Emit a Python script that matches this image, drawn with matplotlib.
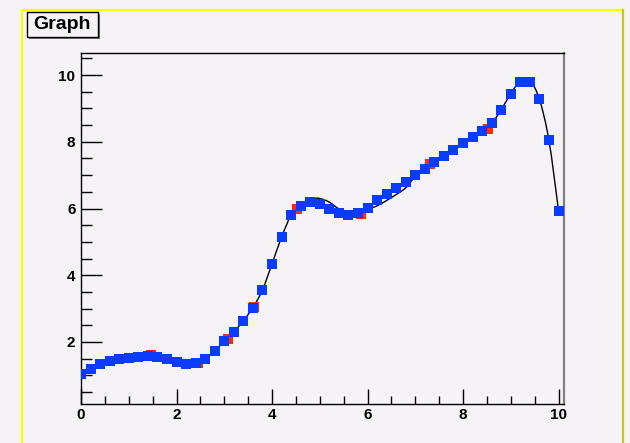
import matplotlib
matplotlib.use("Agg")
import matplotlib.pyplot as plt
from matplotlib.path import Path
from matplotlib.patches import PathPatch, Rectangle
from matplotlib.lines import Line2D
from matplotlib.ticker import MultipleLocator
import numpy as np

plt.rcParams['font.family'] = ['Liberation Sans', 'DejaVu Sans']

# smoothed points (blue), sampled every 0.2
x_smooth = [round(0.2 * i, 1) for i in range(51)]
y_smooth = [1.04, 1.19, 1.34, 1.44, 1.49, 1.52, 1.55, 1.58, 1.55, 1.49,
            1.40, 1.34, 1.37, 1.49, 1.72, 2.02, 2.31, 2.64, 3.03, 3.56,
            4.34, 5.14, 5.80, 6.08, 6.19, 6.13, 6.00, 5.88, 5.80, 5.86,
            6.03, 6.25, 6.42, 6.62, 6.80, 7.01, 7.19, 7.40, 7.57, 7.75,
            7.96, 8.14, 8.32, 8.55, 8.96, 9.44, 9.80, 9.80, 9.27, 8.04,
            5.94]

# raw points (red)
x_raw = [1.46, 2.46, 3.08, 3.62, 4.52, 5.86, 7.31, 8.52]
y_raw = [1.60, 1.36, 2.09, 3.05, 6.00, 5.85, 7.33, 8.38]

# knots of the fitted curve (black)
x_curve = [0.0, 0.2, 0.4, 0.6, 0.8, 1.0, 1.2, 1.4, 1.6, 1.8, 2.0, 2.2, 2.4,
           2.6, 2.8, 3.0, 3.2, 3.4, 3.6, 3.8, 4.0, 4.2, 4.4, 4.6, 4.8, 5.0,
           5.2, 5.4, 5.6, 5.8, 6.0, 6.2, 6.4, 6.6, 6.8, 7.0, 7.2, 7.4, 7.6,
           7.8, 8.0, 8.2, 8.4, 8.6, 8.8, 9.0, 9.2, 9.4, 9.6, 9.8, 10.0]
y_curve = [1.04, 1.19, 1.34, 1.44, 1.49, 1.52, 1.55, 1.57, 1.55, 1.49,
           1.41, 1.35, 1.36, 1.49, 1.72, 2.03, 2.31, 2.64, 3.03, 3.56,
           4.34, 5.14, 5.80, 6.12, 6.29, 6.30, 6.19, 5.99, 5.89, 5.90,
           5.98, 6.08, 6.24, 6.42, 6.62, 6.96, 7.17, 7.36, 7.55, 7.74,
           7.94, 8.13, 8.32, 8.55, 8.96, 9.44, 9.82, 9.84, 9.27, 8.04,
           5.94]

BG = '#f6f3f6'
W, H = 630, 443


def smooth_path(xs, ys):
    # Catmull-Rom through the knots, written as cubic Bezier segments
    p = np.column_stack([xs, ys])
    p = np.vstack([p[0], p, p[-1]])
    verts = [p[1]]
    codes = [Path.MOVETO]
    for i in range(1, len(p) - 2):
        c1 = p[i] + (p[i + 1] - p[i - 1]) / 6.0
        c2 = p[i + 1] - (p[i + 2] - p[i]) / 6.0
        verts += [c1, c2, p[i + 1]]
        codes += [Path.CURVE4] * 3
    return Path(verts, codes)


def fx(px):
    return px / W


def fy(py):
    return 1 - py / H


fig = plt.figure(figsize=(6.3, 4.43), dpi=100, facecolor=BG)

# pad border
fig.add_artist(Line2D([fx(22), fx(22)], [fy(10), fy(443)], color='#ffff00', lw=1.6))
fig.add_artist(Line2D([fx(22), fx(623)], [fy(10), fy(10)], color='#ffff00', lw=1.6))
fig.add_artist(Line2D([fx(623), fx(623)], [fy(10), fy(443)], color='#c8c41a', lw=1.6))

ax = fig.add_axes([fx(81), fy(404), fx(564) - fx(81), fy(53) - fy(404)])
ax.set_facecolor(BG)
ax.set_xlim(0, 10.115)
ax.set_ylim(0.142, 10.66)

ax.add_patch(PathPatch(smooth_path(x_curve, y_curve), fill=False,
                       edgecolor='black', lw=1.0, zorder=2))
ax.plot(x_raw, y_raw, 's', color='#ff2a00', ms=6.8, mew=0, zorder=3)
ax.plot(x_smooth, y_smooth, 's', color='#0a3cff', ms=6.8, mew=0, zorder=4)

ax.xaxis.set_major_locator(MultipleLocator(2))
ax.xaxis.set_minor_locator(MultipleLocator(0.5))
ax.yaxis.set_major_locator(MultipleLocator(2))
ax.yaxis.set_minor_locator(MultipleLocator(0.5))
ax.tick_params(which='both', direction='in', color='black', width=1,
               top=False, right=False)
ax.tick_params(axis='x', which='major', length=11, pad=3)
ax.tick_params(axis='x', which='minor', length=6)
ax.tick_params(axis='y', which='major', length=15, pad=4)
ax.tick_params(axis='y', which='minor', length=8)
ax.set_yticks([2, 4, 6, 8, 10])
for lab in ax.get_xticklabels() + ax.get_yticklabels():
    lab.set_fontsize(11)
    lab.set_fontweight('bold')

for side in ('left', 'bottom', 'top'):
    ax.spines[side].set_color('black')
    ax.spines[side].set_linewidth(1.0)
ax.spines['right'].set_color('#808080')
ax.spines['right'].set_linewidth(1.6)

# title box with shadow
fig.add_artist(Rectangle((fx(29), fy(39)), fx(71), fy(12) - fy(37),
                         transform=fig.transFigure, facecolor='#707070',
                         edgecolor='none'))
fig.add_artist(Rectangle((fx(27), fy(37)), fx(71), fy(12) - fy(37),
                         transform=fig.transFigure, facecolor=BG,
                         edgecolor='black', lw=1.0))
fig.text(fx(62.5), fy(24.5), 'Graph', ha='center', va='center',
         fontsize=14, fontweight='bold')

fig.savefig('out.png', dpi=100, facecolor=BG)
